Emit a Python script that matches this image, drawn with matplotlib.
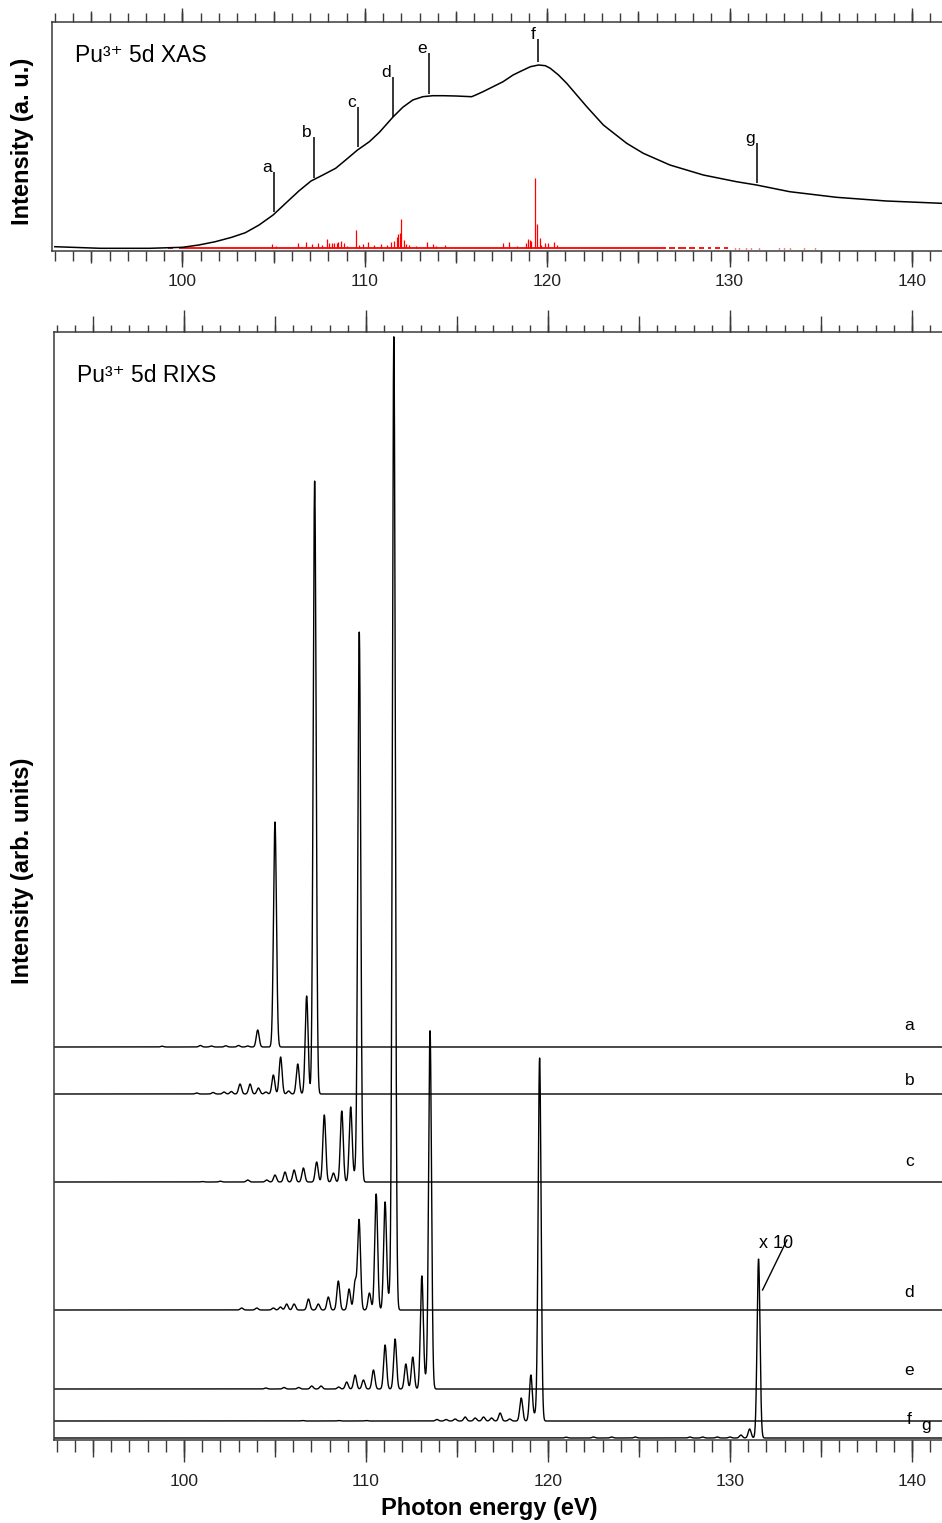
import numpy as np
import matplotlib
matplotlib.use('Agg')
import matplotlib.pyplot as plt
from matplotlib.ticker import MultipleLocator, FixedLocator

plt.rcParams['font.family'] = ['Liberation Sans', 'DejaVu Sans']

E_MIN, E_MAX = 92.83, 141.65
SPINE = '#3a3a3a'
tick_lbl = [100, 110, 120, 130, 140]

# ---- top panel: Pu3+ 5d XAS (black)
xas_e = [93.0, 95.5, 98.2, 100.0, 100.9, 101.8, 102.7, 103.45, 104.2, 104.97,
         105.85, 106.4, 107.05, 107.7, 108.4, 108.95, 109.6, 110.25, 110.8,
         111.53, 112.08, 112.63, 113.18, 113.73, 114.29, 115.0, 115.86, 116.12,
         116.48, 117.03, 117.58, 118.13, 118.5, 119.08, 119.53, 119.9, 120.17,
         120.62, 121.07, 121.62, 122.17, 123.08, 124.36, 125.27, 126.73, 128.56,
         130.38, 131.48, 133.3, 135.86, 138.6, 141.62]
xas_i = [4.3, 2.7, 2.7, 3.7, 6, 9.3, 13.7, 18.3, 26, 36,
         51, 60.3, 70, 76, 82.7, 91, 101, 109.3, 118.7,
         133.7, 143.7, 151, 154.3, 155.3, 155.3, 155, 154.3, 156.3,
         159.3, 164.3, 169.3, 176, 179.3, 184.3, 186, 185.3, 182.7,
         176, 167.7, 156, 144.3, 126, 107.7, 97.7, 86, 76,
         69.3, 66, 59.3, 53.7, 50, 47.7]

# calculated transitions (red sticks), base of sticks at 3
stick_e = [104.92, 105.12, 106.35, 106.75, 107.13, 107.44, 107.63, 107.9, 108.05,
           108.18, 108.3, 108.45, 108.54, 108.72, 108.85, 109.0, 109.49, 109.69,
           109.91, 110.18, 110.49, 110.86, 111.19, 111.46, 111.59, 111.74, 111.83,
           111.92, 112.01, 112.14, 112.25, 112.43, 112.83, 113.41, 113.74, 113.93,
           114.38, 117.58, 117.91, 118.35, 118.86, 118.95, 119.04, 119.13, 119.33,
           119.46, 119.59, 119.68, 119.86, 120.04, 120.36, 120.54]
stick_h = [3.7, 2, 4.7, 6, 4, 5, 3, 8.7, 5,
           5, 5, 5, 6, 7, 5.5, 2, 18, 3,
           4, 6, 3, 4.5, 3, 6, 7, 10.7, 14,
           15, 29, 8, 4, 3, 2.5, 6, 4.5, 2,
           3, 5.3, 5.7, 2, 4.7, 9, 8, 7, 70,
           23.7, 9.7, 3, 5.3, 5.3, 6.3, 3]
fuzz_start = [99.2, 99.8, 126.7, 127.2, 127.8, 128.3, 128.8, 129.2, 129.7]
fuzz_end = [99.5, 126.5, 127.0, 127.6, 128.1, 128.6, 129.0, 129.5, 129.9]
fuzz_dot = [130.3, 130.5, 130.9, 131.2, 131.6, 132.7, 133.0, 133.3, 134.1, 134.7]

# excitation energies a-g marked on the XAS
mark_lbl = ['a', 'b', 'c', 'd', 'e', 'f', 'g']
mark_e = [105.01, 107.21, 109.62, 111.53, 113.51, 119.50, 131.50]
mark_lo = [39, 73, 104, 134, 157, 189, 68]
mark_hi = [79, 114, 144, 174, 198, 212, 108]

# ---- bottom panel: RIXS spectra, (energy, height) of the resolved peaks
peaks_a = [(98.8, 0.8), (100.9, 1.5), (101.5, 1), (102.3, 1.2), (103.0, 1.5),
           (103.5, 1), (104.05, 17), (105.0, 225)]
peaks_b = [(100.7, 1), (101.6, 1.5), (102.2, 2), (102.6, 2.5), (103.08, 10),
           (103.63, 10), (104.09, 6), (104.5, 2), (104.91, 19), (105.31, 37),
           (105.75, 3), (106.25, 30), (106.74, 98), (107.18, 613)]
peaks_c = [(101.0, 0.5), (102.0, 0.8), (103.5, 2), (104.55, 2), (105.0, 7),
           (105.55, 10), (106.05, 12), (106.56, 14), (107.29, 20), (107.71, 67),
           (108.21, 9), (108.67, 71), (109.16, 75), (109.4, 7), (109.63, 550)]
peaks_d = [(103.17, 2), (104.0, 2), (104.91, 2), (105.3, 3), (105.64, 6),
           (106.05, 6), (106.84, 11), (107.38, 6), (107.93, 13), (108.48, 29),
           (109.07, 21), (109.4, 28), (109.62, 90), (110.19, 17), (110.56, 116),
           (111.05, 108), (111.3, 12), (111.53, 973)]
peaks_e = [(104.5, 1), (105.5, 1.5), (106.3, 1.5), (107.02, 3), (107.53, 3),
           (108.5, 2), (108.94, 7), (109.4, 14), (109.86, 9), (110.41, 19),
           (111.05, 44), (111.6, 50), (112.19, 25), (112.57, 32), (113.07, 113),
           (113.3, 8), (113.52, 358)]
peaks_f = [(106.5, 0.5), (108.5, 0.5), (110.0, 0.5), (113.9, 1.5), (114.4, 1.5),
           (114.9, 2), (115.45, 4), (116.0, 3), (116.46, 4), (116.9, 3),
           (117.37, 8), (117.9, 2), (118.53, 23), (119.06, 46), (119.3, 6),
           (119.54, 363)]
peaks_g = [(121.0, 0.8), (122.5, 1), (123.5, 1), (124.8, 1), (127.8, 1),
           (128.5, 1), (129.3, 1), (130.0, 1), (130.6, 3), (131.08, 9),
           (131.57, 179)]

rixs_lbl = ['a', 'b', 'c', 'd', 'e', 'f', 'g']
rixs_off = [393, 346, 258, 130, 51, 19, 2]
rixs_lbl_e = [139.86, 139.86, 139.86, 139.86, 139.86, 139.86, 140.79]
rixs_lbl_y = [410, 355, 274, 143, 65, 16, 10]
rixs_peaks = [peaks_a, peaks_b, peaks_c, peaks_d, peaks_e, peaks_f, peaks_g]
SIGMA = 0.08


def tick_row(ax, loc, locator, length, pad=4, labels=False):
    sec = ax.secondary_xaxis(loc)
    sec.xaxis.set_major_locator(locator)
    for s in sec.spines.values():
        s.set_visible(False)
    sec.tick_params(axis='x', direction='out', length=length * 0.72, width=1.0,
                    color=SPINE, pad=pad, labelsize=12.5, labelcolor='#222222')
    if not labels:
        sec.tick_params(axis='x', labeltop=False, labelbottom=False)
    return sec


def style_panel(ax, top_len, bot_len, label_pad):
    ax.set_xlim(E_MIN, E_MAX)
    ax.spines['right'].set_visible(False)
    for s in ['left', 'top', 'bottom']:
        ax.spines[s].set_color(SPINE)
        ax.spines[s].set_linewidth(1.1)
    ax.tick_params(left=False, labelleft=False, bottom=False, labelbottom=False)
    tick_row(ax, 'top', MultipleLocator(1), top_len[0])
    tick_row(ax, 'top', MultipleLocator(5), top_len[1])
    tick_row(ax, 'top', FixedLocator(tick_lbl), top_len[2])
    tick_row(ax, 'bottom', MultipleLocator(1), bot_len[0])
    tick_row(ax, 'bottom', MultipleLocator(5), bot_len[1])
    tick_row(ax, 'bottom', FixedLocator(tick_lbl), bot_len[2], pad=label_pad, labels=True)


fig = plt.figure(figsize=(9.42, 15.23), dpi=100)
ax1 = fig.add_axes([51.7 / 942, 1 - 251 / 1523, 1 - 51.7 / 942, 229 / 1523])
ax2 = fig.add_axes([53.5 / 942, 1 - 1440 / 1523, 1 - 53.5 / 942, 1108 / 1523])

# top panel
ax1.hlines([3] * len(fuzz_start), fuzz_start, fuzz_end, color='red', lw=1.3)
ax1.vlines(fuzz_dot, 2.5, 3.5, color='red', lw=1.0)
ax1.vlines(stick_e, 3, np.array(stick_h) + 3, color='red', lw=0.9)
ax1.plot(xas_e, xas_i, color='black', lw=1.1)
ax1.vlines(mark_e, mark_lo, mark_hi, color='black', lw=1.1)
for lbl, e, hi in zip(mark_lbl, mark_e, mark_hi):
    ax1.text(e - 0.12, hi, lbl, ha='right', va='baseline', fontsize=12.5)
ax1.set_ylim(0, 229)
ax1.text(0.026, 0.825, 'Pu³⁺ 5d XAS', transform=ax1.transAxes,
         ha='left', va='baseline', fontsize=16.5)
style_panel(ax1, (9, 11, 14), (10, 12, 16), 5)

# bottom panel
ee = np.linspace(E_MIN, E_MAX, 8000)
for lbl, off, pk, lx, ly in zip(rixs_lbl, rixs_off, rixs_peaks, rixs_lbl_e, rixs_lbl_y):
    spec = np.full_like(ee, float(off))
    for e0, h in pk:
        spec += h * np.exp(-(ee - e0) ** 2 / (2 * SIGMA ** 2))
    ax2.plot(ee, spec, color='black', lw=1.0)
    ax2.text(lx, ly, lbl, ha='center', va='baseline', fontsize=12.5)
ax2.plot([131.79, 133.13], [150, 200], color='black', lw=1.0)
ax2.text(131.61, 197, 'x 10', ha='left', va='center', fontsize=13)
ax2.set_ylim(0, 1108)
ax2.text(0.0265, 0.955, 'Pu³⁺ 5d RIXS', transform=ax2.transAxes,
         ha='left', va='baseline', fontsize=16.5)
style_panel(ax2, (7, 16, 22), (12, 17, 22), 8.5)

fig.text(22.5 / 942, 1 - 141 / 1523, 'Intensity (a. u.)', rotation=90,
         ha='center', va='center', fontsize=17, fontweight='bold')
fig.text(22.5 / 942, 1 - 871 / 1523, 'Intensity (arb. units)', rotation=90,
         ha='center', va='center', fontsize=17, fontweight='bold')
fig.text(489 / 942, 1 - 1508 / 1523, 'Photon energy (eV)',
         ha='center', va='center', fontsize=17, fontweight='bold')

fig.savefig('out.png', dpi=100)
